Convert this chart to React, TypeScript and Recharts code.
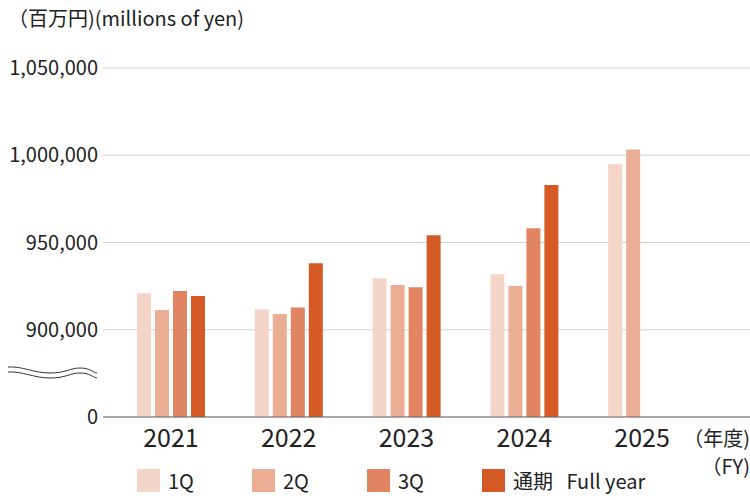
import React from 'react';
import { BarChart, Bar, XAxis, YAxis, CartesianGrid, Legend } from 'recharts';

const years = ['2021', '2022', '2023', '2024', '2025'];
const q1 = [920900, 911700, 929500, 931800, 994800];
const q2 = [911300, 909000, 925700, 925100, 1003300];
const q3 = [922200, 912800, 924300, 958200, null];
const fullYear = [919400, 938100, 954200, 982900, null];
const yTicks = [850000, 900000, 950000, 1000000, 1050000];

const COLORS = {
  q1: '#f5d5c8',
  q2: '#ebad94',
  q3: '#e08461',
  full: '#d55a25',
  text: '#222',
  grid: '#d2d2d2',
  axis: '#666',
};

const FONT = '"Noto Sans CJK JP", "Noto Sans", sans-serif';

const data = years.map((year, i) => ({
  year,
  q1: q1[i],
  q2: q2[i],
  q3: q3[i],
  full: fullYear[i],
}));

const series = [
  { key: 'q1', name: '1Q', color: COLORS.q1 },
  { key: 'q2', name: '2Q', color: COLORS.q2 },
  { key: 'q3', name: '3Q', color: COLORS.q3 },
  { key: 'full', name: '通期\u00a0\u00a0 Full year', color: COLORS.full },
];

const formatTick = (v: number) => (v === 850000 ? '0' : v.toLocaleString('en-US'));

function LegendContent() {
  return (
    <div style={{ display: 'flex', flexWrap: 'nowrap', paddingLeft: 137 }}>
      {series.map((s) => (
        <div key={s.key} style={{ display: 'flex', alignItems: 'center', width: 115, flex: 'none' }}>
          <span style={{ width: 23, height: 23, background: s.color, marginRight: 8, flex: 'none' }} />
          <span style={{ fontSize: 20, lineHeight: '23px', color: COLORS.text, whiteSpace: 'nowrap' }}>{s.name}</span>
        </div>
      ))}
    </div>
  );
}

export default function App() {
  document.body.style.margin = '0';
  return (
    <div style={{ position: 'relative', width: 750, height: 500, fontFamily: FONT, color: COLORS.text }}>
      <div style={{ position: 'absolute', left: 8, top: 4, fontSize: 20, lineHeight: '28px' }}>
        （百万円)(millions of yen)
      </div>
      <BarChart
        width={750}
        height={500}
        data={data}
        margin={{ top: 68, right: 0, bottom: 0, left: 0 }}
        barSize={14}
        barGap={4}
        style={{ fontFamily: FONT }}
      >
        <CartesianGrid vertical={false} stroke={COLORS.grid} />
        <XAxis
          dataKey="year"
          padding={{ left: 9, right: 49 }}
          tickLine={false}
          axisLine={{ stroke: COLORS.axis }}
          tick={{ fill: COLORS.text, fontSize: 25 }}
          tickMargin={6}
          height={43}
        />
        <YAxis
          domain={[850000, 1050000]}
          ticks={yTicks}
          tickFormatter={formatTick}
          axisLine={false}
          tickLine={false}
          tickSize={0}
          tickMargin={5}
          width={103}
          tick={{ fill: COLORS.text, fontSize: 20 }}
          interval={0}
        />
        <Legend
          verticalAlign="bottom"
          content={<LegendContent />}
          wrapperStyle={{ bottom: -9, left: 0, width: 750 }}
          height={40}
        />
        {series.map((s) => (
          <Bar key={s.key} dataKey={s.key} name={s.name} fill={s.color} isAnimationActive={false} />
        ))}
      </BarChart>
      <svg style={{ position: 'absolute', left: 0, top: 0 }} width={110} height={400}>
        <path d="M8,367 C22,366 34,373 50,373 S70,368 80,368 S92,372 97,373" fill="none" stroke="#333" strokeWidth={1} />
        <path d="M8,372 C22,371 34,378 50,378 S70,373 80,373 S92,377 97,378" fill="none" stroke="#333" strokeWidth={1} />
      </svg>
      <div style={{ position: 'absolute', right: 0, top: 424, fontSize: 20, lineHeight: '28px', textAlign: 'right' }}>
        （年度)
        <br />
        （FY)
      </div>
    </div>
  );
}
